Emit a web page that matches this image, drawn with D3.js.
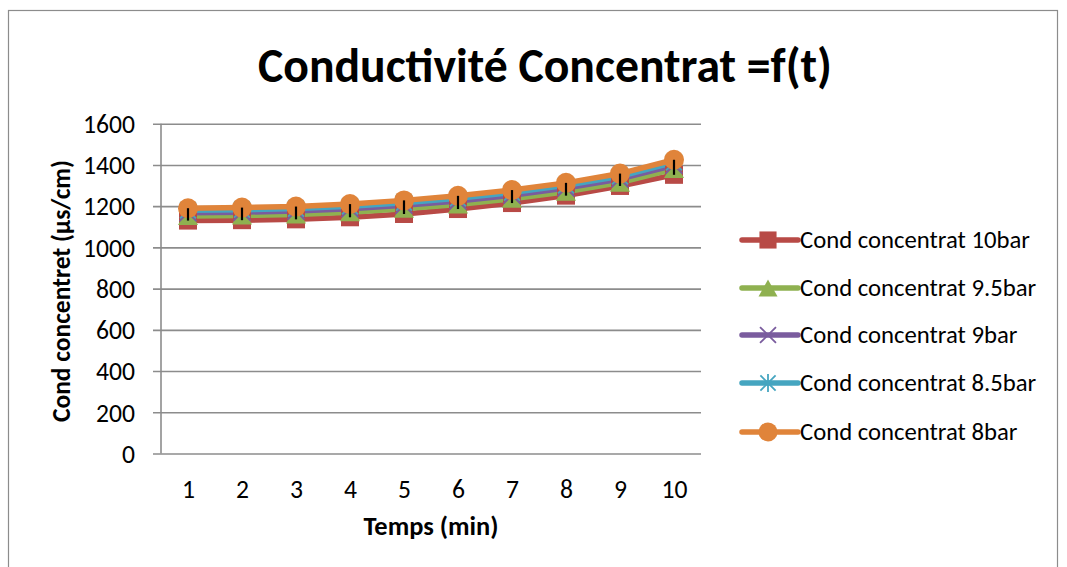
<!DOCTYPE html>
<html><head><meta charset="utf-8">
<script src="https://cdn.jsdelivr.net/npm/d3@7/dist/d3.min.js"></script>
<style>
html,body{margin:0;padding:0;background:#fff;}
text{font-family:Carlito,Calibri,Lato,"Open Sans",sans-serif;fill:#000;}
</style></head>
<body><svg id="c" width="1067" height="567"></svg>
<script>
const categories = ["1","2","3","4","5","6","7","8","9","10"];
const yTicks = [0,200,400,600,800,1000,1200,1400,1600];
const seriesNames = ["Cond concentrat 10bar","Cond concentrat 9.5bar","Cond concentrat 9bar","Cond concentrat 8.5bar","Cond concentrat 8bar"];
const cond10bar  = [1130,1132,1136,1146,1162,1186,1215,1251,1298,1352];
const cond9_5bar = [1152,1155,1160,1170,1187,1208,1236,1270,1314,1380];
const cond9bar   = [1168,1171,1176,1187,1204,1225,1253,1288,1332,1398];
const cond8_5bar = [1180,1183,1188,1199,1217,1238,1266,1301,1345,1412];
const cond8bar   = [1190,1193,1198,1210,1228,1250,1278,1313,1358,1425];
const seriesValues = [cond10bar,cond9_5bar,cond9bar,cond8_5bar,cond8bar];
const colors = ["#B84A46","#8FB150","#7A5C9E","#45A5C0","#E0843A"];
const markers = ["square","triangle","x","star","circle"];

const svg = d3.select("#c");
svg.append("rect").attr("x",8.5).attr("y",10.5).attr("width",1049).attr("height",620)
  .attr("fill","#fff").attr("stroke","#8c8c8c").attr("stroke-width",1.2);

const L=161, R=701, T=123.7, B=453.5;
const x = d3.scalePoint().domain(categories).range([L,R]).padding(0.5);
const y = d3.scaleLinear().domain([0,1600]).range([B,T]);

function fit(sel, target){
  const w = sel.node().getComputedTextLength();
  const fs = parseFloat(sel.attr("font-size"));
  sel.attr("font-size", fs*target/w);
}

// gridlines
const yAxis = d3.axisLeft(y).tickValues(yTicks).tickSize(-(R-L)).tickPadding(18).tickFormat(d3.format("d"));
const gy = svg.append("g").attr("transform",`translate(${L},0)`).call(yAxis);
gy.select(".domain").remove();
gy.selectAll(".tick line").attr("stroke","#8c8c8c").attr("stroke-width",1.6).attr("x1",-8);
gy.selectAll(".tick text").attr("font-size",22).attr("font-family",null).attr("fill","#000").attr("x",-26).attr("dy","0.34em");
(function(){
  const t = gy.selectAll(".tick text").filter(d=>d===1600);
  const w = t.node().getComputedTextLength();
  const fs = 22*52/w;
  gy.selectAll(".tick text").attr("font-size",fs);
})();
svg.append("line").attr("x1",L).attr("x2",L).attr("y1",T).attr("y2",B)
  .attr("stroke","#8c8c8c").attr("stroke-width",1.6);

// x axis labels
const xAxis = d3.axisBottom(x).tickSize(0).tickPadding(0);
const gx = svg.append("g").attr("transform",`translate(0,${B})`).call(xAxis);
gx.select(".domain").remove();
gx.selectAll(".tick text").attr("font-size",gy.select(".tick text").attr("font-size"))
  .attr("font-family",null).attr("fill","#000").attr("y",44).attr("dy",0);

// lines
const lineGen = d3.line().x((d,i)=>x(categories[i])).y(d=>y(d));
seriesValues.forEach((vals,si)=>{
  svg.append("path").datum(vals).attr("d",lineGen).attr("fill","none")
    .attr("stroke",colors[si]).attr("stroke-width",5.5).attr("stroke-linejoin","round").attr("stroke-linecap","round");
});

function drawMarker(g, type, cx, cy, color, s){
  if(type==="square"){
    g.append("rect").attr("x",cx-s*0.45).attr("y",cy-s*0.45).attr("width",s*0.9).attr("height",s*0.9).attr("fill",color);
  } else if(type==="triangle"){
    const h=s*0.45;
    g.append("path").attr("d",`M${cx},${cy-h} L${cx+s*0.5},${cy+h} L${cx-s*0.5},${cy+h} Z`).attr("fill",color);
  } else if(type==="x"){
    const h=s*0.42;
    g.append("path").attr("d",`M${cx-h},${cy-h}L${cx+h},${cy+h}M${cx-h},${cy+h}L${cx+h},${cy-h}`).attr("stroke",color).attr("stroke-width",1.8);
  } else if(type==="star"){
    const h=s*0.4;
    g.append("path").attr("d",`M${cx-h},${cy-h}L${cx+h},${cy+h}M${cx-h},${cy+h}L${cx+h},${cy-h}M${cx},${cy-h*1.2}L${cx},${cy+h*1.2}`).attr("stroke",color).attr("stroke-width",1.8);
  } else {
    g.append("circle").attr("cx",cx).attr("cy",cy).attr("r",s*0.5).attr("fill",color);
  }
}
const mg = svg.append("g");
seriesValues.forEach((vals,si)=>{
  vals.forEach((v,i)=>drawMarker(mg, markers[si], x(categories[i]), y(v), colors[si], 20));
});

// high-low lines
categories.forEach((c,i)=>{
  const vs = seriesValues.map(s=>s[i]);
  svg.append("line").attr("x1",x(c)).attr("x2",x(c))
    .attr("y1",y(d3.max(vs))).attr("y2",y(d3.min(vs)))
    .attr("stroke","#000").attr("stroke-width",2.2);
});

// legend
const legY = [240,288,335,383,432];
seriesNames.forEach((n,i)=>{
  const g = svg.append("g");
  g.append("line").attr("x1",742).attr("x2",798).attr("y1",legY[i]).attr("y2",legY[i])
    .attr("stroke",colors[i]).attr("stroke-width",5.5).attr("stroke-linecap","round");
  drawMarker(g, markers[i], 768, legY[i], colors[i], 19);
  g.append("text").attr("class","leg").attr("x",800).attr("y",legY[i]).attr("dy","0.34em")
    .attr("font-size",21).text(n);
});
(function(){
  const t = svg.selectAll("text.leg").filter((d,i)=>i===0);
  const w = t.node().getComputedTextLength();
  svg.selectAll("text.leg").attr("font-size",21*230/w);
})();

// title
const title = svg.append("text").attr("x",545).attr("y",82).attr("text-anchor","middle")
  .attr("font-weight","bold").attr("font-size",40).text("Conductivité Concentrat =f(t)");
fit(title,574);

const xt = svg.append("text").attr("x",431).attr("y",535).attr("text-anchor","middle")
  .attr("font-weight","bold").attr("font-size",21).text("Temps (min)");
fit(xt,135);

const yt = svg.append("text").attr("transform","translate(70,291) rotate(-90)").attr("text-anchor","middle")
  .attr("font-weight","bold").attr("font-size",21).text("Cond concentret (µs/cm)");
fit(yt,262);
</script></body></html>
